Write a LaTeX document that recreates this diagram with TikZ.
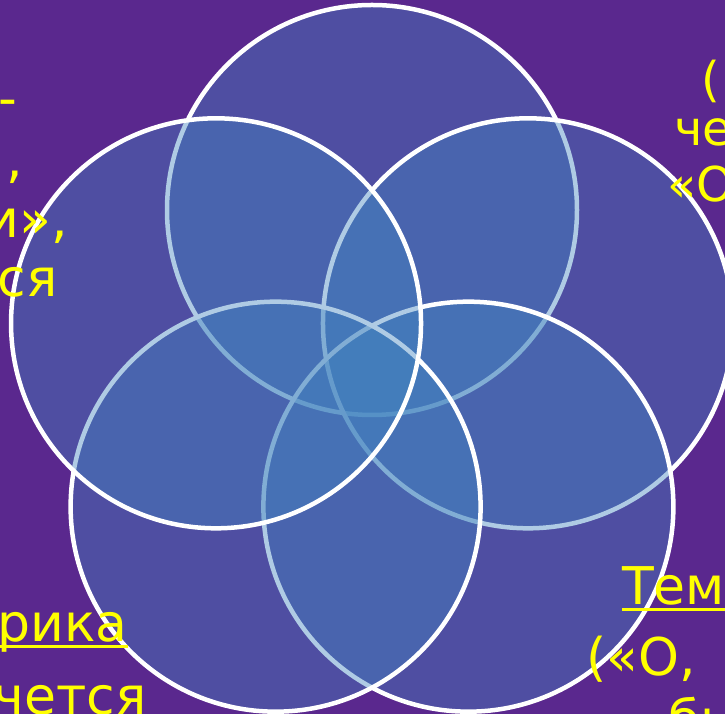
\documentclass[tikz,border=0pt]{standalone}
\usepackage{fontspec}
\setmainfont{DejaVu Sans}
\definecolor{bgpurple}{RGB}{90,40,142}
\definecolor{petalblue}{RGB}{66,132,192}
\definecolor{txtyellow}{RGB}{255,255,0}
\tikzset{
    petal/.style={circle, draw=white, line width=4.5pt, fill=petalblue,
        fill opacity=0.42, draw opacity=1, minimum size=410pt, inner sep=0pt},
    frag/.style={text=txtyellow, inner sep=0pt, font=\fontsize{52}{62}\selectfont},
    fragsm/.style={frag, font=\fontsize{48}{56}\selectfont},
    uline/.style={draw=txtyellow, line width=3pt}
}

\begin{document}
\begin{tikzpicture}[x=1pt, y=1pt]
%% BACKGROUND
\fill[bgpurple] (0,0) rectangle (725,714);
\useasboundingbox (0,0) rectangle (725,714);
\clip (0,0) rectangle (725,714);

%% ── FIVE CIRCLES (pentagon, drawn clockwise from the top) ──────
\coordinate (mid) at (372,340);
\foreach \i/\nm in {0/ptop, 1/pright, 2/pbright, 3/pbleft, 4/pleft}
    \node[petal] (\nm) at ([shift={({90-72*\i}:164)}]mid) {};

%% ── LEFT TEXT (cut by the left edge) ────────────────────────────
\node[frag, anchor=base east] (l1) at (17,597) {-};
\node[frag, anchor=base east] (l2) at (23,536) {,};
\node[frag, anchor=base east] (l3) at (68,476) {и»,};
\node[frag, anchor=base east] (l4) at (58,417) {ся};

%% ── RIGHT TEXT (cut by the right edge) ──────────────────────────
\node[fragsm, anchor=base west] (r1) at (701,617) {(};
\node[fragsm, anchor=base west] (r2) at (674,568) {че};
\node[fragsm, anchor=base west] (r3) at (667,512) {«О};

%% ── BOTTOM LEFT ─────────────────────────────────────────────────
\node[frag, anchor=base east] (rika) at (128,72) {рика};
\draw[uline] ([yshift=-5pt]rika.base west) -- ([yshift=-5pt]rika.base east);
\node[frag, anchor=base east] (chet) at (147,-1) {чется};

%% ── BOTTOM RIGHT ────────────────────────────────────────────────
\node[frag, anchor=base west] (tema) at (622,109) {Тем};
\draw[uline] ([yshift=-5pt]tema.base west) -- ([yshift=-5pt]tema.base east);
\node[frag, anchor=base west] (quot) at (586,38) {(«О,};
\node[frag, anchor=base west] (by) at (668,-24) {бы};

\end{tikzpicture}
\end{document}
